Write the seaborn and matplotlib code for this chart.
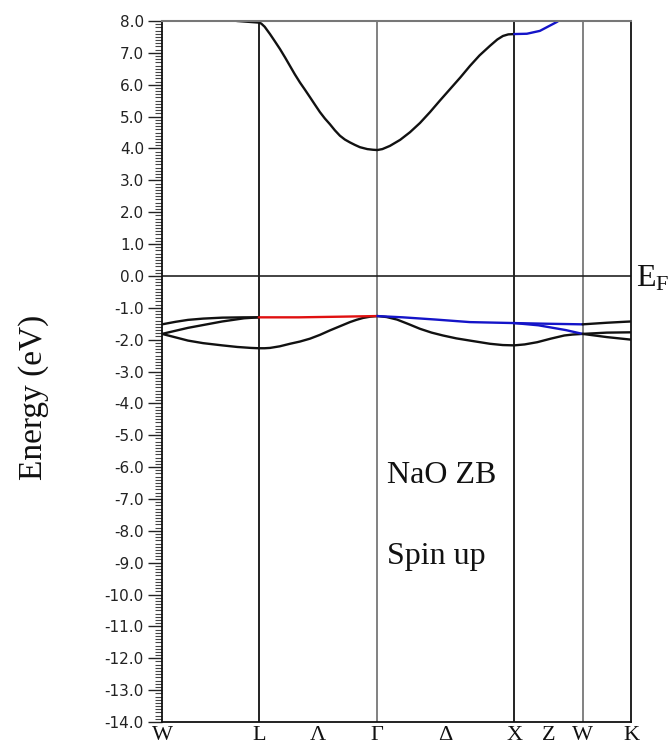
import numpy as np
import pandas as pd
import matplotlib
matplotlib.use("Agg")
import matplotlib.pyplot as plt
import seaborn as sns
from matplotlib.ticker import MultipleLocator, FormatStrFormatter

# ---- data ----
# high-symmetry points along the fcc path W-L-Γ-X-W-K (cumulative k distance)
k_nodes = [0.0, 0.7071, 1.5731, 2.5731, 3.0731, 3.4267]
node_labels = ["W", "L", "Γ", "X", "W", "K"]
mid_labels = ["Λ", "Δ", "Z"]           # between L-Γ, Γ-X, X-W

# conduction band
cb_k_black = [0.0, 0.30, 0.55, 0.7071, 0.725, 0.75, 0.789, 0.825, 0.862, 0.90,
              0.935, 0.97, 1.008, 1.045, 1.081, 1.118, 1.154, 1.19, 1.227,
              1.263, 1.300, 1.336, 1.373, 1.41, 1.446, 1.50, 1.54, 1.5731,
              1.61, 1.665, 1.74, 1.812, 1.885, 1.958, 2.03, 2.104, 2.18, 2.25,
              2.32, 2.396, 2.45, 2.491, 2.53, 2.5731]
cb_e_black = [8.40, 8.15, 8.00, 7.95, 7.92, 7.82, 7.59, 7.36, 7.12, 6.85,
              6.59, 6.33, 6.07, 5.84, 5.61, 5.37, 5.14, 4.94, 4.76,
              4.57, 4.40, 4.28, 4.19, 4.11, 4.04, 3.98, 3.96, 3.95,
              3.98, 4.08, 4.27, 4.51, 4.80, 5.14, 5.50, 5.86, 6.23, 6.59,
              6.92, 7.22, 7.42, 7.53, 7.58, 7.59]
cb_k_blue = [2.5731, 2.666, 2.761, 2.885, 3.0731, 3.4267]
cb_e_blue = [7.59, 7.60, 7.69, 7.97, 8.50, 8.80]

# valence band 1 (top)
vb1_k_WL = [0.0, 0.10, 0.19, 0.30, 0.44, 0.60, 0.7071]
vb1_e_WL = [-1.52, -1.44, -1.38, -1.34, -1.31, -1.30, -1.30]
vb12_k_LG = [0.7071, 1.0, 1.3, 1.5731]
vb12_e_LG = [-1.30, -1.30, -1.28, -1.26]
vb12_k_GX = [1.5731, 1.76, 2.0, 2.25, 2.5731]
vb12_e_GX = [-1.26, -1.30, -1.37, -1.45, -1.48]
vb1_k_XW = [2.5731, 2.80, 3.0731]
vb1_e_XW = [-1.48, -1.50, -1.52]
vb1_k_WK = [3.0731, 3.25, 3.38, 3.4267]
vb1_e_WK = [-1.52, -1.47, -1.44, -1.43]

# valence band 2
vb2_k_WL = [0.0, 0.19, 0.44, 0.60, 0.7071]
vb2_e_WL = [-1.82, -1.63, -1.43, -1.33, -1.30]
vb2_k_XW = [2.5731, 2.75, 2.95, 3.0731]
vb2_e_XW = [-1.48, -1.55, -1.70, -1.82]
vb2_k_WK = [3.0731, 3.25, 3.4267]
vb2_e_WK = [-1.82, -1.78, -1.77]

# valence band 3 (lowest)
vb3_k = [0.0, 0.10, 0.19, 0.30, 0.44, 0.55, 0.65, 0.7071,
         0.75, 0.789, 0.86, 0.935, 1.008, 1.081, 1.154, 1.227, 1.30, 1.373,
         1.42, 1.468, 1.52, 1.5731,
         1.64, 1.717, 1.80, 1.885, 1.97, 2.053, 2.15, 2.25, 2.396, 2.49, 2.5731,
         2.65, 2.742, 2.84, 2.939, 3.0, 3.0731, 3.25, 3.4267]
vb3_e = [-1.82, -1.93, -2.03, -2.11, -2.18, -2.23, -2.26, -2.27,
         -2.27, -2.26, -2.21, -2.13, -2.06, -1.97, -1.85, -1.71, -1.58, -1.45,
         -1.38, -1.32, -1.28, -1.26,
         -1.29, -1.37, -1.51, -1.66, -1.78, -1.87, -1.96, -2.03, -2.13, -2.17, -2.18,
         -2.15, -2.08, -1.97, -1.87, -1.84, -1.82, -1.92, -2.00]

y_min, y_max = -14.0, 8.0

BLACK = "#111111"
RED = "#e01010"
BLUE = "#1414c8"

segments = [
    (cb_k_black, cb_e_black, BLACK),
    (cb_k_blue, cb_e_blue, BLUE),
    (vb3_k, vb3_e, BLACK),
    (vb2_k_WL, vb2_e_WL, BLACK),
    (vb2_k_XW, vb2_e_XW, BLUE),
    (vb2_k_WK, vb2_e_WK, BLACK),
    (vb1_k_WL, vb1_e_WL, BLACK),
    (vb1_k_XW, vb1_e_XW, BLUE),
    (vb1_k_WK, vb1_e_WK, BLACK),
    (vb12_k_LG, vb12_e_LG, RED),
    (vb12_k_GX, vb12_e_GX, BLUE),
]

# ---- plotting ----
sns.set_theme(style="white")
plt.rcParams["font.family"] = ["DejaVu Sans"]
plt.rcParams["axes.unicode_minus"] = False
plt.rcParams["mathtext.fontset"] = "custom"
plt.rcParams["mathtext.rm"] = "Liberation Serif"
plt.rcParams["mathtext.it"] = "Liberation Serif:italic"

fig = plt.figure(figsize=(6.71, 7.48), dpi=100)
ax = fig.add_axes([162 / 671, 1 - 722 / 748, 469 / 671, 701 / 748])

for kk, ee, col in segments:
    df = pd.DataFrame({"k": kk, "E": ee})
    sns.lineplot(data=df, x="k", y="E", sort=False, estimator=None,
                 color=col, lw=1.7, ax=ax)

# vertical lines at high-symmetry points
line_cols = [BLACK, BLACK, "#777777", BLACK, "#777777", BLACK]
for kx, c in zip(k_nodes[1:-1], line_cols[1:-1]):
    ax.axvline(kx, color=c, lw=1.3, zorder=0)
ax.axhline(0.0, color="#222222", lw=1.2, zorder=0)

ax.set_xlim(k_nodes[0], k_nodes[-1])
ax.set_ylim(y_min, y_max)

for side in ["left", "bottom", "right"]:
    ax.spines[side].set_color(BLACK)
    ax.spines[side].set_linewidth(1.3)
ax.spines["top"].set_color("#777777")
ax.spines["top"].set_linewidth(1.5)

# y ticks
ax.yaxis.set_major_locator(MultipleLocator(1.0))
ax.yaxis.set_minor_locator(MultipleLocator(0.1))
ax.yaxis.set_major_formatter(FormatStrFormatter("%.1f"))
ax.tick_params(axis="y", which="major", direction="out", length=10, width=1.0,
               color="#222222", labelsize=11, pad=3, left=True)
ax.tick_params(axis="y", which="minor", direction="out", length=5, width=0.8,
               color="#444444", left=True)
for lab in ax.get_yticklabels():
    lab.set_color("#222222")

# x ticks
mids = [(k_nodes[1] + k_nodes[2]) / 2, (k_nodes[2] + k_nodes[3]) / 2,
        (k_nodes[3] + k_nodes[4]) / 2]
xt = k_nodes + mids
xl = node_labels + mid_labels
ax.set_xticks(xt)
ax.set_xticklabels(xl, fontfamily="Liberation Serif", fontsize=16)
ax.tick_params(axis="x", length=0, pad=3, colors="#111111")
ax.set_xlabel("")
ax.set_ylabel("")

fig.text(34 / 671, 1 - 397 / 748, "Energy (eV)", rotation=90, ha="center",
         va="center", fontfamily="Liberation Serif", fontsize=24, color="#111111")

ax.text(1.644, -6.49, "NaO ZB", fontfamily="Liberation Serif", fontsize=23,
        color="#111111", ha="left", va="baseline")
ax.text(1.644, -9.03, "Spin up", fontfamily="Liberation Serif", fontsize=23,
        color="#111111", ha="left", va="baseline")
ax.text(3.462, -0.34, r"E$_{\rm F}$", fontfamily="Liberation Serif", fontsize=23,
        color="#111111", ha="left", va="baseline", clip_on=False)

fig.savefig("out.png", dpi=100, facecolor="white")
